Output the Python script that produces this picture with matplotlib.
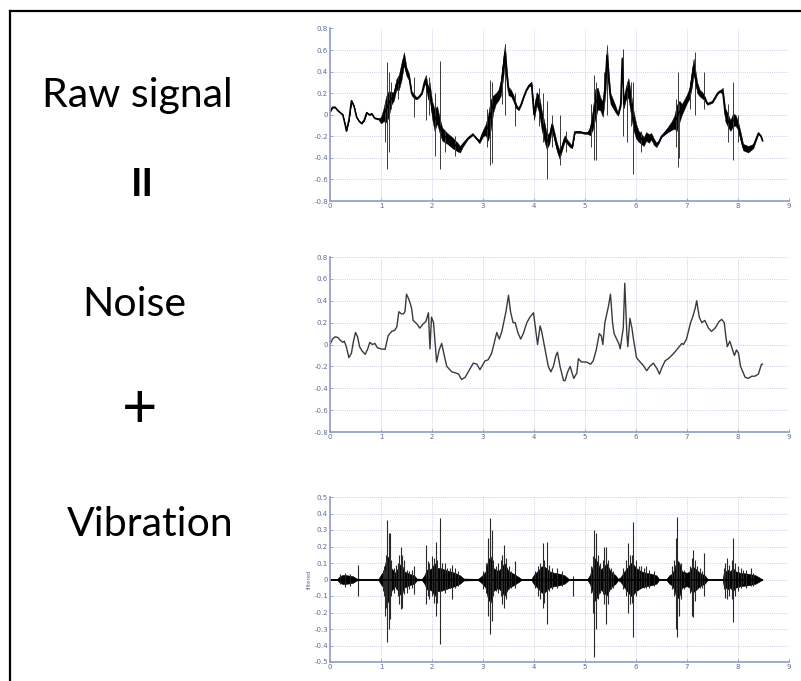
import numpy as np
import matplotlib
matplotlib.use("Agg")
import matplotlib.pyplot as plt
from matplotlib.lines import Line2D

# ---------------- data ----------------
# Raw signal: centre line of the trace, half-width of the dense band
raw_t = [0.00,0.05,0.10,0.15,0.20,0.25,0.30,0.32,0.37,0.42,0.47,0.52,0.57,0.62,0.67,0.72,0.77,0.82,0.87,0.95,
         1.00,1.05,1.10,1.15,1.20,1.25,1.30,1.35,1.40,1.45,1.50,1.55,1.60,1.65,1.70,1.75,1.80,1.85,1.88,1.92,1.95,
         2.00,2.05,2.10,2.15,2.20,2.30,2.40,2.50,2.55,2.60,2.70,2.80,2.87,2.93,
         3.00,3.05,3.10,3.15,3.20,3.25,3.30,3.35,3.40,3.43,3.47,3.50,3.55,3.60,3.65,3.70,3.75,3.80,3.85,3.90,3.95,
         4.00,4.05,4.10,4.15,4.20,4.25,4.30,4.35,4.40,4.45,4.50,4.55,4.60,4.65,4.70,4.75,4.80,4.90,
         5.00,5.05,5.10,5.15,5.20,5.25,5.30,5.35,5.40,5.43,5.47,5.50,5.55,5.60,5.65,5.70,5.73,5.76,5.80,5.85,5.90,5.95,
         6.00,6.05,6.10,6.15,6.20,6.25,6.30,6.35,6.40,6.45,6.50,6.60,6.70,6.75,6.80,6.85,6.90,
         7.00,7.05,7.10,7.13,7.20,7.25,7.30,7.35,7.40,7.50,7.60,7.65,7.70,7.75,7.80,7.85,7.90,7.95,
         8.00,8.05,8.10,8.20,8.30,8.40,8.45,8.48]
raw_mid = [0.03,0.07,0.07,0.04,0.02,0.00,-0.10,-0.15,-0.05,0.13,0.08,-0.02,-0.06,-0.08,-0.05,0.02,0.00,0.01,-0.03,-0.04,
           -0.05,0.00,0.05,0.10,0.15,0.17,0.28,0.30,0.40,0.52,0.40,0.35,0.20,0.17,0.15,0.17,0.20,0.30,0.33,0.20,0.25,
           0.05,-0.05,0.00,-0.10,-0.18,-0.22,-0.26,-0.30,-0.32,-0.28,-0.22,-0.18,-0.22,-0.25,
           -0.17,-0.14,-0.12,0.00,0.10,0.15,0.18,0.25,0.45,0.58,0.35,0.22,0.20,0.15,0.08,0.05,0.10,0.17,0.23,0.27,0.29,
           0.00,0.15,0.10,-0.05,-0.15,-0.25,-0.22,-0.10,-0.20,-0.30,-0.37,-0.30,-0.22,-0.25,-0.28,-0.30,-0.16,-0.16,
           -0.17,-0.17,-0.15,-0.05,0.10,0.15,0.10,0.05,0.30,0.55,0.30,0.15,0.10,0.05,0.00,0.10,0.52,0.10,0.20,0.25,0.10,-0.05,
           -0.15,-0.20,-0.22,-0.25,-0.20,-0.22,-0.20,-0.25,-0.28,-0.25,-0.20,-0.15,-0.10,-0.07,-0.03,0.03,0.05,
           0.15,0.20,0.35,0.45,0.25,0.20,0.18,0.15,0.10,0.12,0.20,0.22,0.22,0.00,-0.05,-0.10,-0.05,-0.05,
           -0.10,-0.20,-0.30,-0.32,-0.29,-0.17,-0.20,-0.24]
raw_half = [0.005,0.005,0.005,0.005,0.006,0.006,0.006,0.006,0.006,0.008,0.006,0.005,0.005,0.005,0.005,0.005,0.005,0.005,0.005,0.005,
            0.03,0.06,0.12,0.12,0.06,0.04,0.05,0.07,0.08,0.06,0.04,0.03,0.02,0.02,0.008,0.008,0.008,0.03,0.04,0.06,0.06,
            0.08,0.10,0.08,0.07,0.06,0.05,0.05,0.04,0.03,0.02,0.008,0.008,0.008,0.015,
            0.03,0.05,0.12,0.14,0.08,0.05,0.05,0.07,0.09,0.08,0.05,0.04,0.03,0.03,0.02,0.008,0.008,0.008,0.008,0.008,0.02,
            0.05,0.06,0.08,0.09,0.09,0.07,0.05,0.04,0.04,0.04,0.04,0.03,0.03,0.02,0.02,0.01,0.008,0.008,
            0.008,0.008,0.04,0.09,0.14,0.10,0.06,0.07,0.10,0.10,0.06,0.05,0.04,0.03,0.01,0.02,0.02,0.04,0.06,0.09,0.10,0.09,
            0.07,0.05,0.05,0.04,0.04,0.04,0.03,0.03,0.02,0.01,0.008,0.02,0.04,0.06,0.12,0.10,0.05,
            0.04,0.05,0.08,0.07,0.05,0.03,0.03,0.02,0.008,0.008,0.008,0.008,0.03,0.06,0.06,0.05,0.06,0.05,
            0.04,0.04,0.03,0.03,0.02,0.008,0.008,0.008]
raw_spike_t  = [1.12,1.16,1.65,1.88,2.06,2.16,3.13,3.17,3.43,3.62,4.17,4.25,4.50,5.18,5.22,5.43,5.74,5.83,5.95,6.82,6.85,7.15,7.33,7.90,
                1.08,1.20,1.33,1.95,2.25,2.45,3.08,3.38,4.10,4.35,4.62,5.12,5.38,5.90,6.10,6.78,7.05,7.80,8.00]
raw_spike_hi = [0.49,0.40,0.35,0.35,0.20,0.50,0.32,0.30,0.65,0.20,0.20,0.13,0.00,0.37,0.30,0.62,0.61,0.30,0.30,0.40,0.10,0.58,0.40,0.30,
                0.12,0.30,0.36,0.35,-0.15,-0.20,0.05,0.45,0.25,0.00,-0.15,0.10,0.40,0.30,-0.15,0.15,0.30,0.10,0.00]
raw_spike_lo = [-0.50,-0.35,-0.02,-0.05,-0.38,-0.50,-0.47,-0.45,0.00,-0.10,-0.25,-0.60,-0.47,-0.42,-0.42,0.00,-0.20,-0.25,-0.55,-0.48,-0.40,0.00,0.05,-0.42,
                -0.25,0.05,0.15,0.00,-0.35,-0.38,-0.30,0.10,-0.10,-0.30,-0.35,-0.30,0.10,-0.10,-0.35,-0.30,0.05,-0.25,-0.25]

# Noise (low-frequency component)
noise_t = [0.00,0.05,0.10,0.15,0.20,0.25,0.28,0.32,0.37,0.42,0.46,0.50,0.54,0.58,0.63,0.69,0.74,0.78,0.83,0.88,0.93,
           1.00,1.08,1.14,1.21,1.27,1.31,1.35,1.40,1.44,1.47,1.50,1.54,1.57,1.60,1.63,1.70,1.76,1.83,1.88,1.93,1.96,1.99,
           2.03,2.09,2.14,2.19,2.24,2.29,2.39,2.46,2.52,2.58,2.65,2.75,2.81,2.88,2.94,
           3.04,3.10,3.17,3.27,3.32,3.37,3.45,3.50,3.54,3.59,3.63,3.69,3.74,3.79,3.86,3.92,3.99,
           4.07,4.12,4.15,4.22,4.28,4.33,4.38,4.43,4.46,4.51,4.58,4.61,4.66,4.71,4.74,4.78,4.84,4.87,4.93,
           5.03,5.11,5.16,5.22,5.28,5.32,5.35,5.39,5.46,5.50,5.54,5.57,5.62,5.67,5.69,5.75,5.78,5.82,5.84,5.88,5.92,5.95,
           6.01,6.08,6.14,6.21,6.27,6.34,6.41,6.46,6.50,6.57,6.63,6.70,6.76,6.83,6.90,6.93,6.99,
           7.07,7.11,7.16,7.19,7.24,7.29,7.35,7.42,7.48,7.55,7.63,7.68,7.73,7.76,7.79,7.84,7.90,7.93,7.97,
           8.01,8.05,8.14,8.20,8.27,8.33,8.40,8.46,8.48]
noise_v = [0.00,0.05,0.07,0.065,0.04,0.02,0.03,-0.02,-0.12,-0.08,0.03,0.11,0.07,-0.02,-0.06,-0.09,-0.04,0.02,0.00,0.01,-0.03,
           -0.04,-0.045,0.08,0.12,0.13,0.16,0.30,0.28,0.28,0.30,0.46,0.42,0.38,0.33,0.22,0.19,0.15,0.19,0.21,0.29,-0.04,0.25,
           0.20,-0.16,-0.05,0.01,-0.10,-0.20,-0.25,-0.26,-0.27,-0.32,-0.30,-0.22,-0.17,-0.18,-0.23,
           -0.15,-0.14,-0.08,0.11,0.05,0.12,0.30,0.45,0.30,0.20,0.20,0.10,0.05,0.10,0.20,0.25,0.29,
           0.00,0.17,0.12,-0.05,-0.20,-0.25,-0.20,-0.10,-0.07,-0.20,-0.33,-0.33,-0.25,-0.20,-0.25,-0.31,-0.26,-0.13,-0.16,
           -0.16,-0.18,-0.15,-0.05,0.10,0.08,0.00,0.20,0.35,0.46,0.20,0.10,0.05,0.00,-0.04,0.15,0.56,0.10,-0.02,0.24,0.15,0.05,
           -0.12,-0.16,-0.19,-0.24,-0.20,-0.17,-0.22,-0.27,-0.22,-0.15,-0.13,-0.10,-0.07,-0.03,0.01,0.00,0.05,
           0.20,0.25,0.33,0.40,0.25,0.20,0.22,0.15,0.12,0.15,0.21,0.23,0.20,0.08,-0.02,0.03,-0.06,-0.10,-0.05,
           -0.08,-0.20,-0.30,-0.31,-0.29,-0.29,-0.27,-0.18,-0.18]

# Vibration (filtered): amplitude of dense burst core and individual peaks
vib_t = [0.00,0.15,0.17,0.25,0.35,0.45,0.52,0.60,0.95,1.00,1.05,1.10,1.15,1.20,1.28,1.35,1.40,1.45,1.55,1.65,1.70,1.80,
         1.85,1.90,1.95,2.00,2.05,2.10,2.15,2.25,2.35,2.45,2.55,2.62,2.90,2.95,3.00,3.05,3.10,3.15,3.20,3.30,3.38,3.42,
         3.50,3.60,3.70,3.75,3.95,4.00,4.10,4.15,4.20,4.30,4.40,4.50,4.60,4.68,5.05,5.10,5.15,5.20,5.25,5.30,5.38,5.42,
         5.50,5.60,5.65,5.70,5.75,5.80,5.85,5.90,5.95,6.00,6.10,6.20,6.30,6.40,6.45,6.60,6.65,6.70,6.75,6.80,6.85,6.90,
         7.00,7.05,7.10,7.15,7.25,7.35,7.40,7.70,7.72,7.80,7.85,7.90,7.95,8.05,8.20,8.35,8.45,8.48]
vib_amp = [0.004,0.004,0.015,0.028,0.025,0.02,0.006,0.004,0.004,0.03,0.05,0.12,0.14,0.07,0.04,0.08,0.10,0.05,0.035,0.025,0.006,0.004,
           0.025,0.06,0.06,0.07,0.10,0.07,0.07,0.06,0.05,0.04,0.025,0.006,0.004,0.015,0.03,0.05,0.12,0.14,0.07,0.05,0.08,0.10,
           0.05,0.035,0.015,0.004,0.004,0.03,0.06,0.08,0.08,0.05,0.04,0.035,0.025,0.004,0.004,0.03,0.08,0.13,0.10,0.06,0.08,0.10,
           0.05,0.025,0.004,0.015,0.04,0.06,0.08,0.10,0.09,0.07,0.05,0.04,0.035,0.025,0.004,0.004,0.025,0.035,0.06,0.12,0.10,0.05,
           0.04,0.05,0.08,0.07,0.04,0.025,0.004,0.004,0.04,0.06,0.05,0.07,0.05,0.04,0.035,0.025,0.006,0.003]
vib_spike_t  = [0.54,1.08,1.12,1.15,1.17,1.36,1.39,1.42,1.65,1.88,2.03,2.07,2.16,2.40,3.10,3.13,3.17,3.38,3.42,3.62,
                4.17,4.25,4.76,5.18,5.22,5.38,5.41,5.85,5.88,5.95,6.20,6.78,6.81,6.84,7.09,7.12,7.33,7.78,7.90,8.10,
                0.20,0.30,0.40,1.03,1.05,1.10,1.20,1.25,1.30,1.33,1.45,1.50,1.55,1.60,
                1.92,1.95,2.00,2.10,2.20,2.25,2.30,2.35,2.45,2.50,
                3.00,3.05,3.20,3.25,3.30,3.35,3.45,3.50,3.55,
                4.02,4.07,4.12,4.20,4.30,4.35,4.45,4.55,
                5.12,5.15,5.25,5.30,5.35,5.45,5.50,5.55,
                5.75,5.80,5.92,6.00,6.05,6.10,6.15,6.25,6.35,
                6.70,6.75,6.88,6.95,7.05,7.15,7.20,7.25,7.30,
                7.72,7.75,7.82,7.88,7.95,8.00,8.05,8.15,8.25,8.30]
vib_spike_hi = [0.09,0.06,0.36,0.28,0.28,0.15,0.20,0.15,0.08,0.21,0.13,0.23,0.37,0.09,0.25,0.37,0.30,0.15,0.21,0.11,
                0.22,0.23,0.02,0.30,0.28,0.20,0.20,0.22,0.15,0.35,0.08,0.25,0.38,0.10,0.13,0.18,0.16,0.13,0.25,0.06,
                0.035,0.04,0.035,0.06,0.08,0.15,0.12,0.07,0.09,0.10,0.12,0.06,0.05,0.06,
                0.11,0.10,0.14,0.12,0.10,0.10,0.07,0.07,0.07,0.05,
                0.05,0.10,0.12,0.08,0.10,0.12,0.13,0.08,0.05,
                0.05,0.08,0.10,0.12,0.09,0.07,0.07,0.05,
                0.08,0.14,0.15,0.10,0.12,0.12,0.07,0.05,
                0.07,0.12,0.15,0.12,0.08,0.08,0.07,0.06,0.05,
                0.08,0.12,0.10,0.06,0.08,0.12,0.08,0.07,0.05,
                0.07,0.10,0.09,0.12,0.10,0.08,0.07,0.06,0.07,0.04]
vib_spike_lo = [-0.10,-0.22,-0.38,-0.30,-0.24,-0.15,-0.18,-0.17,-0.09,-0.15,-0.14,-0.22,-0.39,-0.12,-0.22,-0.33,-0.25,-0.15,-0.17,-0.05,
                -0.17,-0.27,-0.10,-0.47,-0.30,-0.15,-0.27,-0.20,-0.15,-0.35,-0.05,-0.30,-0.35,-0.22,-0.22,-0.23,-0.10,-0.12,-0.26,-0.03,
                -0.03,-0.045,-0.04,-0.07,-0.10,-0.17,-0.10,-0.08,-0.06,-0.10,-0.09,-0.08,-0.06,-0.05,
                -0.10,-0.12,-0.10,-0.14,-0.07,-0.08,-0.06,-0.05,-0.05,-0.04,
                -0.06,-0.08,-0.10,-0.07,-0.08,-0.10,-0.12,-0.06,-0.05,
                -0.05,-0.10,-0.12,-0.14,-0.07,-0.06,-0.05,-0.04,
                -0.08,-0.20,-0.12,-0.08,-0.09,-0.15,-0.06,-0.05,
                -0.06,-0.10,-0.14,-0.10,-0.06,-0.05,-0.05,-0.05,-0.04,
                -0.06,-0.10,-0.12,-0.06,-0.08,-0.13,-0.06,-0.05,-0.05,
                -0.06,-0.11,-0.10,-0.12,-0.10,-0.07,-0.05,-0.05,-0.04,-0.04]

x_ticks = list(range(0, 10))
y_ticks_top = [-0.8,-0.6,-0.4,-0.2,0,0.2,0.4,0.6,0.8]
y_ticks_bot = [-0.5,-0.4,-0.3,-0.2,-0.1,0,0.1,0.2,0.3,0.4,0.5]
labels_left = ["Raw signal", "II", "Noise", "+", "Vibration"]

# ---------------- figure ----------------
W, H = 801, 681
fig = plt.figure(figsize=(W/100, H/100), dpi=100)
fig.patch.set_facecolor("white")

spine_c = "#8e9cc6"
tick_c = "#5b6b9e"
grid_c = "#b9c2de"

def frac_box(x0, x1, ytop, ybot):
    return [x0/W, 1-ybot/H, (x1-x0)/W, (ybot-ytop)/H]

def style(ax, yt, ylim):
    ax.set_xlim(0, 9)
    ax.set_ylim(*ylim)
    ax.set_xticks(x_ticks)
    ax.set_yticks(yt)
    ax.set_xticklabels([str(v) for v in x_ticks])
    ax.set_yticklabels([("%g" % v) for v in yt])
    for s in ["top", "right"]:
        ax.spines[s].set_visible(False)
    for s in ["left", "bottom"]:
        ax.spines[s].set_color(spine_c)
        ax.spines[s].set_linewidth(1.2)
    ax.tick_params(direction="in", length=2, width=0.6, colors=spine_c,
                   labelcolor=tick_c, labelsize=5, pad=1.5)
    ax.grid(True, linestyle=(0, (1, 1.5)), color=grid_c, linewidth=0.6)
    ax.set_axisbelow(True)

ax1 = fig.add_axes(frac_box(330, 789, 28.5, 201))
ax2 = fig.add_axes(frac_box(330, 789, 257, 432))
ax3 = fig.add_axes(frac_box(330, 789, 497, 662))

# Raw signal
rm = np.array(raw_mid); rh = np.array(raw_half)
ax1.vlines(raw_spike_t, raw_spike_lo, raw_spike_hi, color="#3a3a3a", linewidth=0.7)
ax1.fill_between(raw_t, rm - rh, rm + rh, color="black", linewidth=0.3)
ax1.plot(raw_t, raw_mid, color="black", linewidth=1.1)
style(ax1, y_ticks_top, (-0.8, 0.8))

# Noise
ax2.plot(noise_t, noise_v, color="#3a3a3a", linewidth=1.0)
style(ax2, y_ticks_top, (-0.8, 0.8))

# Vibration
va = np.array(vib_amp)
ax3.vlines(vib_spike_t, vib_spike_lo, vib_spike_hi, color="#2a2a2a", linewidth=0.8)
ax3.fill_between(vib_t, -va, va, color="black", linewidth=0.4)
ax3.plot(vib_t, np.zeros(len(vib_t)), color="black", linewidth=1.1)
style(ax3, y_ticks_bot, (-0.5, 0.5))
ax3.set_ylabel("filtered", fontsize=4, color=tick_c, labelpad=2)

# Left labels
fam = ["Lato", "DejaVu Sans"]
fs = 29.5
fig.text(137/W, 1-95/H, labels_left[0], fontsize=fs, family=fam, ha="center", va="center")
fig.text(142/W, 1-185/H, labels_left[1], fontsize=28, family=fam, ha="center", va="center",
         fontweight="bold")
fig.text(134/W, 1-305/H, labels_left[2], fontsize=fs, family=fam, ha="center", va="center")
fig.text(140/W, 1-410/H, labels_left[3], fontsize=44, family=fam, ha="center", va="center")
fig.text(150/W, 1-525/H, labels_left[4], fontsize=fs, family=fam, ha="center", va="center")

# outer frame (left and top edges)
fig.add_artist(Line2D([10/W, 10/W], [0, 1-10.5/H], transform=fig.transFigure, color="black", linewidth=1.6))
fig.add_artist(Line2D([10/W, 1], [1-10.5/H, 1-10.5/H], transform=fig.transFigure, color="black", linewidth=1.6))

fig.savefig("out.png", dpi=100)
